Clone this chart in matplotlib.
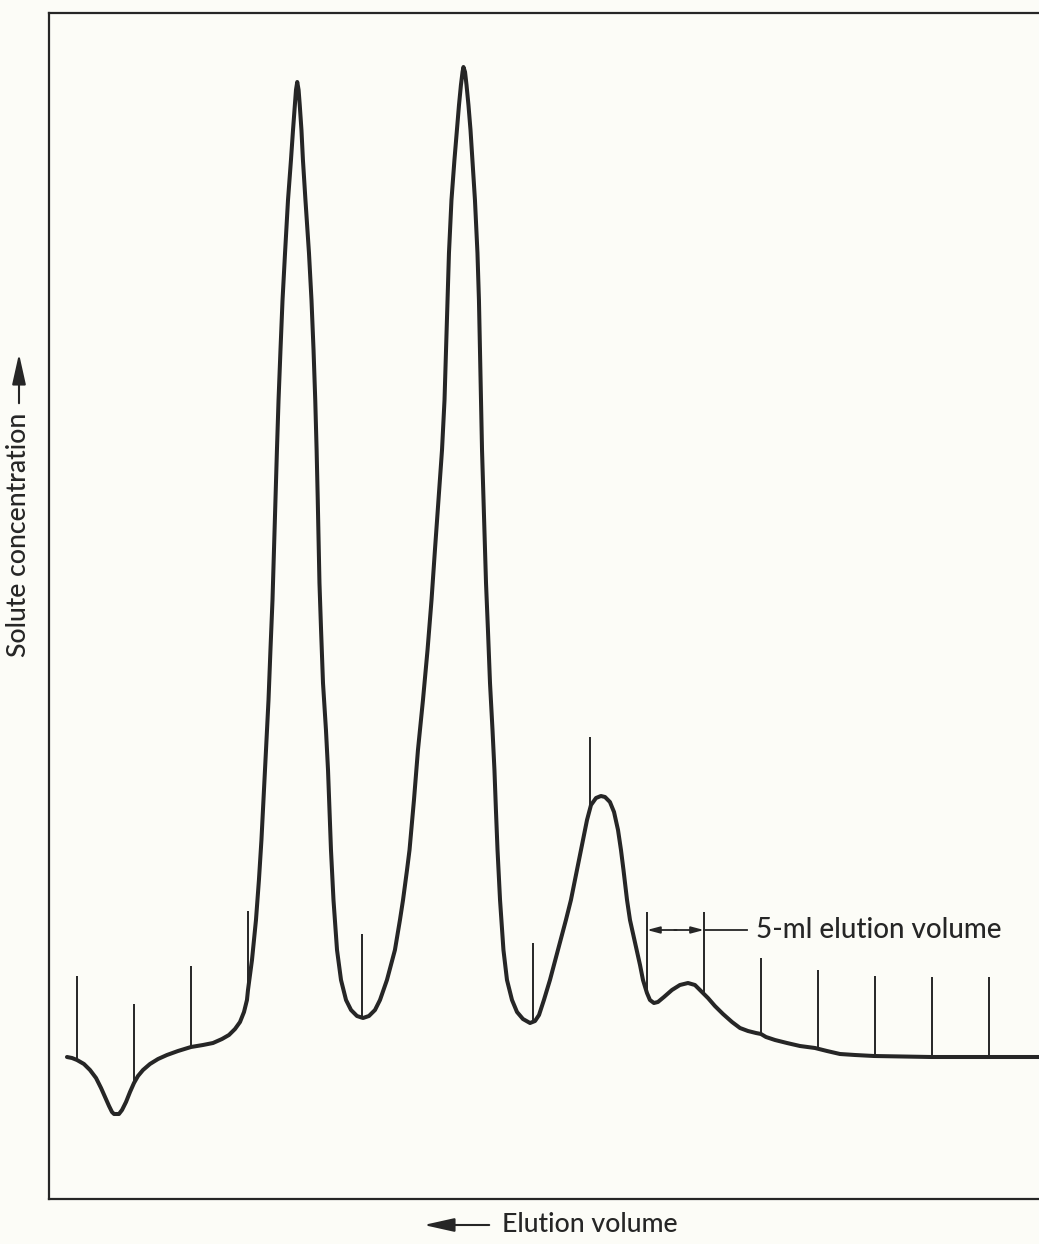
import numpy as np
import matplotlib
matplotlib.use("Agg")
import matplotlib.pyplot as plt

# ---- data (elution volume in ml, solute concentration in arbitrary units) ----
volume = [-0.88, -0.44, 0.0, 0.61, 1.14, 1.67, 2.11, 2.46, 2.81, 3.07, 3.25, 3.68,
          3.95, 4.30, 4.65, 5.00, 5.35, 5.79, 6.40, 7.11, 7.89, 8.86, 10.0, 11.05,
          11.93, 12.72, 13.33, 13.86, 14.30, 14.65, 14.91,
          15.0, 15.35, 15.70, 15.96, 16.18, 16.36, 16.58, 16.80, 16.97, 17.15,
          17.28, 17.41, 17.54, 17.68, 17.85, 18.03, 18.25, 18.51, 18.77, 18.95,
          19.11, 19.21, 19.32,
          19.44, 19.54, 19.69, 19.82, 20.04, 20.35, 20.57, 20.75, 20.90, 21.02,
          21.12, 21.21, 21.27, 21.41, 21.58, 21.84, 22.02, 22.15, 22.28, 22.50,
          22.81, 23.16, 23.60, 24.04, 24.56, 25.09,
          25.61, 26.14, 26.58, 27.19, 27.89, 28.33, 28.60, 28.95, 29.17, 29.56,
          29.91, 30.35, 30.75, 31.10, 31.40, 31.71, 32.02, 32.24, 32.37, 32.50,
          32.63, 32.85, 33.11, 33.33, 33.51, 33.68, 33.82, 33.90,
          34.04, 34.17, 34.34, 34.52, 34.69, 34.91, 35.13, 35.26, 35.35, 35.44,
          35.53, 35.66, 35.79, 35.88, 36.05, 36.23, 36.45, 36.62, 36.75, 36.89,
          37.11, 37.41, 37.72, 38.16, 38.60, 39.12, 39.74,
          40.18, 40.53, 40.96, 41.49, 42.19, 42.89, 43.33, 43.86, 44.39, 44.74,
          45.09, 45.53, 45.96, 46.32, 46.75, 47.11, 47.46, 47.72, 47.94, 48.25,
          48.51, 49.04, 49.39, 49.65, 50.0, 50.26, 50.61, 50.96, 51.49, 52.19,
          52.89, 53.60, 54.21, 54.74, 55.35, 55.96, 56.67, 57.46, 58.16, 58.86,
          59.56, 60.0, 60.44, 61.23, 62.28, 63.42, 64.74, 65.79, 66.93, 68.25,
          69.91, 74.91, 80.0, 84.39]
concentration = [14.2, 14.1, 13.9, 13.5, 12.9, 12.1, 11.1, 10.2, 9.3, 8.7, 8.5, 8.5,
                 8.9, 9.7, 10.7, 11.6, 12.3, 12.9, 13.5, 14.0, 14.4, 14.8, 15.2, 15.4,
                 15.6, 16.0, 16.4, 17.0, 17.7, 18.7, 19.9,
                 20.9, 23.9, 27.9, 31.9, 35.9, 39.9, 44.9, 49.9, 54.9, 59.9,
                 64.9, 69.9, 74.9, 79.9, 84.9, 89.9, 94.6, 99.9, 103.9, 106.9,
                 109.4, 110.9, 111.7,
                 110.9, 109.4, 106.9, 103.9, 99.9, 94.6, 89.9, 84.9, 79.9, 74.9,
                 69.9, 64.9, 61.6, 56.9, 51.6, 46.9, 42.9, 38.9, 34.9, 29.9,
                 24.9, 21.9, 19.9, 18.9, 18.3, 18.1,
                 18.3, 18.9, 19.9, 21.9, 24.9, 27.9, 29.9, 32.9, 34.9, 39.9,
                 44.9, 49.9, 54.9, 59.9, 64.9, 69.9, 74.9, 79.9, 84.9, 89.9,
                 94.6, 99.9, 103.9, 106.9, 109.4, 111.4, 112.7, 113.2,
                 112.7, 111.4, 109.4, 106.9, 103.9, 99.9, 94.6, 89.9, 84.9, 79.9,
                 74.9, 69.9, 64.9, 61.6, 56.9, 51.6, 46.9, 42.9, 38.9, 34.9,
                 29.9, 24.9, 21.9, 19.9, 18.7, 18.0, 17.6,
                 17.8, 18.4, 19.9, 21.9, 24.9, 27.9, 29.9, 32.9, 35.9, 37.9,
                 39.4, 40.1, 40.3, 40.2, 39.7, 38.7, 36.9, 34.9, 32.9, 29.9,
                 27.9, 25.2, 23.4, 21.9, 20.6, 19.9, 19.6, 19.7, 20.2, 20.9,
                 21.4, 21.6, 21.4, 20.8, 20.1, 19.3, 18.5, 17.7, 17.1, 16.8,
                 16.6, 16.5, 16.2, 15.9, 15.6, 15.3, 15.1, 14.8, 14.5, 14.4,
                 14.3, 14.2, 14.2, 14.2]

# fraction markers (5-ml intervals) and the heights of their tops
marker_volume = [0, 5, 10, 15, 25, 40, 45, 50, 55, 60, 65, 70, 75, 80]
marker_top = [22.3, 19.5, 23.3, 28.8, 26.5, 25.6, 46.2, 28.7, 28.7, 24.1, 22.9,
              22.3, 22.2, 22.2]

x_label = "Elution volume"
y_label = "Solute concentration"
note_text = "5-ml elution volume"

# ---- figure ----
W, H = 1039, 1244
ink = "#262626"
paper = "#fcfcf7"
plt.rcParams["font.family"] = ["Lato", "DejaVu Sans"]
plt.rcParams["font.weight"] = "medium"

fig = plt.figure(figsize=(W / 100, H / 100), dpi=100, facecolor=paper)
ax = fig.add_axes([49 / W, 1 - 1199 / H, 1 - 49 / W, (1199 - 13) / H])
ax.set_facecolor(paper)
ax.set_xlim(-2.456, 84.39)
ax.set_ylim(0, 118.6)
ax.set_xticks([])
ax.set_yticks([])
ax.spines["right"].set_visible(False)
for s in ("left", "top", "bottom"):
    ax.spines[s].set_color(ink)
    ax.spines[s].set_linewidth(1.6)

ax.plot(volume, concentration, color=ink, lw=2.9, solid_joinstyle="round",
        solid_capstyle="round", clip_on=False, zorder=3)

bottoms = np.interp(marker_volume, volume, concentration)
ax.vlines(marker_volume, bottoms, marker_top, color=ink, lw=1.4, zorder=2)

# 5-ml annotation
ya = 26.9
for tip, tail in ((50.0, 52.6), (55.0, 52.4)):
    ax.annotate("", xy=(tip, ya), xytext=(tail, ya),
                arrowprops=dict(arrowstyle="-|>,head_length=0.75,head_width=0.2",
                                color=ink, lw=1.3, shrinkA=0, shrinkB=0))
ax.plot([55.0, 58.77], [ya, ya], color=ink, lw=1.3)
ax.text(59.6, ya, note_text, fontsize=20, color=ink, va="center", ha="left")


def fx(px):
    return px / W


def fy(py):
    return 1 - py / H


# x label with arrow pointing left
fig.text(fx(502), fy(1225), x_label, fontsize=19.2, color=ink, va="center", ha="left")
fig.patches.append(matplotlib.patches.FancyArrowPatch(
    (fx(492), fy(1225)), (fx(421), fy(1225)), transform=fig.transFigure,
    arrowstyle="-|>,head_length=8.5,head_width=1.9", color=ink, lw=1.5,
    mutation_scale=2.2))

# y label with arrow pointing up
fig.text(fx(19), fy(535), y_label, fontsize=19.2, color=ink, rotation=90,
         va="center", ha="center")
fig.patches.append(matplotlib.patches.FancyArrowPatch(
    (fx(19), fy(406)), (fx(19), fy(351)), transform=fig.transFigure,
    arrowstyle="-|>,head_length=8.5,head_width=1.9", color=ink, lw=1.5,
    mutation_scale=2.2))

fig.savefig("out.png", dpi=100, facecolor=paper)
